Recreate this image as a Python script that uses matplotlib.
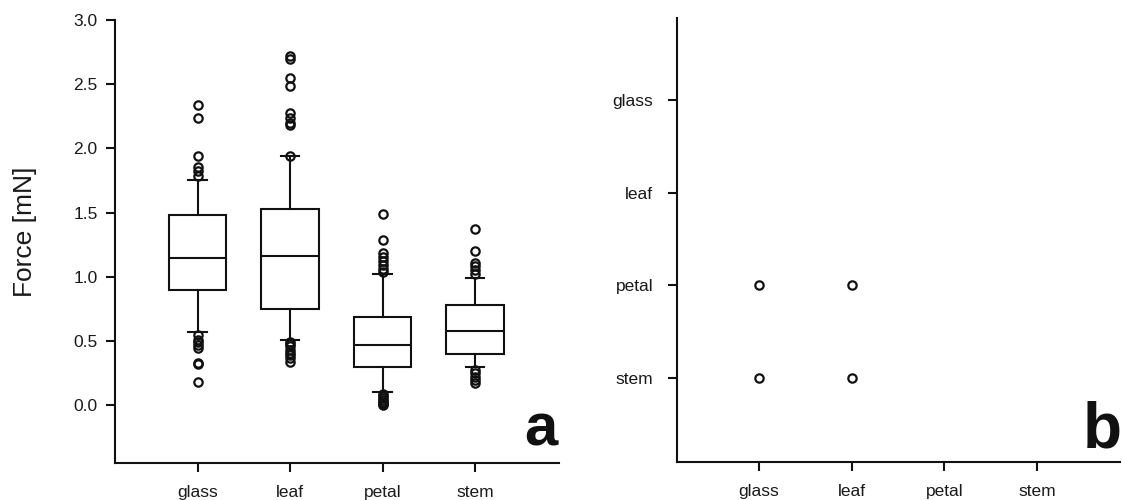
import matplotlib
matplotlib.use("Agg")
import matplotlib.pyplot as plt
import numpy as np

plt.rcParams['font.family'] = ['Liberation Sans', 'DejaVu Sans']

categories = ["glass", "leaf", "petal", "stem"]
q1 = [0.897, 0.749, 0.300, 0.403]
median = [1.151, 1.167, 0.469, 0.583]
q3 = [1.484, 1.528, 0.687, 0.780]
whisker_low = [0.575, 0.510, 0.105, 0.297]
whisker_high = [1.756, 1.938, 1.022, 0.995]
outliers_glass = [2.338, 2.237, 1.943, 1.852, 1.826, 1.787,
                  0.549, 0.510, 0.490, 0.471, 0.445, 0.330, 0.320, 0.181]
outliers_leaf = [2.717, 2.700, 2.548, 2.490, 2.276, 2.237, 2.198, 2.180, 1.940,
                 0.497, 0.480, 0.463, 0.432, 0.410, 0.393, 0.367, 0.341]
outliers_petal = [1.491, 1.289, 1.190, 1.159, 1.128, 1.094, 1.063, 1.037,
                  0.090, 0.075, 0.060, 0.045, 0.030, 0.020, 0.010, 0.000]
outliers_stem = [1.372, 1.203, 1.112, 1.086, 1.055, 1.024,
                 0.276, 0.251, 0.224, 0.199, 0.173]
y_ticks = [0.0, 0.5, 1.0, 1.5, 2.0, 2.5, 3.0]

# significant pairs (panel b)
sig_x = ["glass", "leaf", "glass", "leaf"]
sig_y = ["petal", "petal", "stem", "stem"]

fig = plt.figure(figsize=(11.22, 5.0), dpi=100)
ink = "#111111"
txt = "#1a1a1a"
lw = 1.5

# ---------- panel a ----------
axA = fig.add_axes([115/1122, 1-463/500, (559-115)/1122, (463-20)/500])
fliers = [outliers_glass, outliers_leaf, outliers_petal, outliers_stem]
stats = []
for i, c in enumerate(categories):
    stats.append(dict(label=c, q1=q1[i], med=median[i], q3=q3[i],
                      whislo=whisker_low[i], whishi=whisker_high[i],
                      fliers=np.array(fliers[i])))
axA.bxp(stats, positions=range(len(categories)), widths=0.62,
        capwidths=0.2, patch_artist=True,
        boxprops=dict(facecolor="white", edgecolor=ink, linewidth=lw),
        medianprops=dict(color=ink, linewidth=lw),
        whiskerprops=dict(color=ink, linewidth=lw),
        capprops=dict(color=ink, linewidth=lw),
        flierprops=dict(marker="o", markerfacecolor="none", markeredgecolor=ink,
                        markersize=6, markeredgewidth=1.6))
axA.set_xlim(-0.895, 3.91)
axA.set_ylim(-0.448, 3.0)
axA.set_yticks(y_ticks)
axA.set_yticklabels([f"{v:.1f}" for v in y_ticks])
axA.set_xticks(range(len(categories)))
axA.set_xticklabels(categories)
axA.set_ylabel("Force [mN]", fontsize=19, color=txt)
axA.yaxis.set_label_coords((37-115)/444, (463-232)/443)
fig.text(557/1122, 1-445/500, "a", ha="right", va="baseline",
         fontsize=43, fontweight="bold", color=ink)

# ---------- panel b ----------
axB = fig.add_axes([677/1122, 1-462/500, (1120-677)/1122, (462-18)/500])
xs = [categories.index(c) for c in sig_x]
ys = [categories.index(c) for c in sig_y]
axB.plot(xs, ys, linestyle="none", marker="o", markerfacecolor="none",
         markeredgecolor=ink, markersize=6, markeredgewidth=1.6)
axB.set_xlim(-0.885, 3.894)
axB.set_ylim(3.906, -0.885)
axB.set_xticks(range(len(categories)))
axB.set_xticklabels(categories)
axB.set_yticks(range(len(categories)))
axB.set_yticklabels(categories)
fig.text(1.0, 1-447/500, "b", ha="right", va="baseline",
         fontsize=46, fontweight="bold", color=ink)

for ax in (axA, axB):
    for s in ("top", "right"):
        ax.spines[s].set_visible(False)
    for s in ("left", "bottom"):
        ax.spines[s].set_linewidth(lw)
        ax.spines[s].set_color(ink)
    ax.tick_params(axis="both", direction="out", length=6.5, width=lw,
                   color=ink, labelsize=12.5, labelcolor=txt)
    ax.tick_params(axis="x", pad=9)
axA.tick_params(axis="y", pad=6)
axB.tick_params(axis="y", pad=10.5)

fig.savefig("out.png", dpi=100, facecolor="white")
